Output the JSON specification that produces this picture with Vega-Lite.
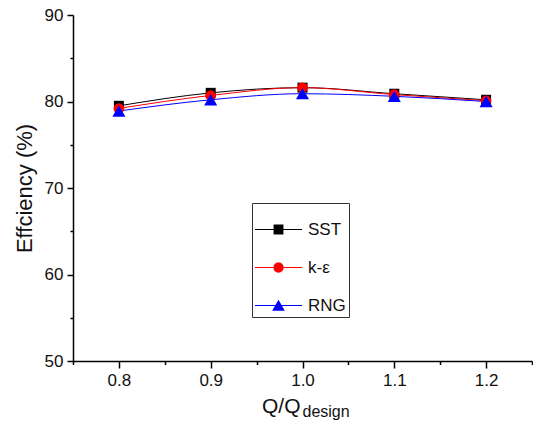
{
  "$schema": "https://vega.github.io/schema/vega-lite/v6.json",
  "width": 459,
  "height": 346,
  "autosize": {"type": "none"},
  "padding": {"left": 73, "top": 15, "right": 1, "bottom": 64},
  "background": "white",
  "config": {
    "view": {"stroke": null},
    "font": "Liberation Sans",
    "legend": {
      "strokeColor": "#333333",
      "fillColor": "white",
      "padding": 3,
      "labelFont": "Liberation Sans",
      "labelFontSize": 17,
      "labelColor": "#111111",
      "labelOffset": 6,
      "rowPadding": 6,
      "symbolSize": 2209,
      "symbolOpacity": 1,
      "symbolStrokeWidth": 0
    },
    "axis": {
      "grid": false,
      "domainColor": "#000000",
      "domainWidth": 1.5,
      "tickColor": "#000000",
      "tickWidth": 1.5,
      "labelFont": "Liberation Sans",
      "labelFontSize": 17,
      "labelColor": "#111111",
      "titleFont": "Liberation Sans",
      "titleFontSize": 22,
      "titleFontWeight": "normal",
      "titleColor": "#111111"
    }
  },
  "data": {
    "values": [
      {"q": 0.8, "eff": 79.5, "model": "SST"},
      {"q": 0.9, "eff": 81.0, "model": "SST"},
      {"q": 1.0, "eff": 81.6, "model": "SST"},
      {"q": 1.1, "eff": 80.9, "model": "SST"},
      {"q": 1.2, "eff": 80.2, "model": "SST"},
      {"q": 0.8, "eff": 79.2, "model": "k-ε"},
      {"q": 0.9, "eff": 80.7, "model": "k-ε"},
      {"q": 1.0, "eff": 81.6, "model": "k-ε"},
      {"q": 1.1, "eff": 80.8, "model": "k-ε"},
      {"q": 1.2, "eff": 80.1, "model": "k-ε"},
      {"q": 0.8, "eff": 78.9, "model": "RNG"},
      {"q": 0.9, "eff": 80.2, "model": "RNG"},
      {"q": 1.0, "eff": 80.9, "model": "RNG"},
      {"q": 1.1, "eff": 80.6, "model": "RNG"},
      {"q": 1.2, "eff": 80.0, "model": "RNG"}
    ]
  },
  "encoding": {
    "x": {
      "field": "q", "type": "quantitative",
      "scale": {"domain": [0.75, 1.25], "nice": false, "zero": false},
      "axis": {
        "title": null,
        "values": [0.75, 0.8, 0.85, 0.9, 0.95, 1.0, 1.05, 1.1, 1.15, 1.2, 1.25],
        "labelExpr": "(round(datum.value * 100) % 10 === 0 && datum.value > 0.76 && datum.value < 1.24) ? format(datum.value, '.1f') : ''",
        "tickSize": {"condition": {"test": "round(datum.value * 100) % 10 !== 0", "value": 3.5}, "value": 7},
        "labelPadding": 4,
        "labelFlush": false
      }
    },
    "y": {
      "field": "eff", "type": "quantitative",
      "scale": {"domain": [50, 90], "nice": false, "zero": false},
      "axis": {
        "title": "Effciency (%)",
        "values": [50, 55, 60, 65, 70, 75, 80, 85, 90],
        "labelExpr": "datum.value % 10 === 0 ? format(datum.value, 'd') : ''",
        "tickSize": {"condition": {"test": "datum.value % 10 !== 0", "value": 3}, "value": 6},
        "labelPadding": 4,
        "titlePadding": 8,
        "labelFlush": false
      }
    }
  },
  "layer": [
    {
      "transform": [{"filter": "false"}],
      "mark": {"type": "point", "filled": true, "opacity": 1},
      "encoding": {
        "color": {
          "field": "model", "type": "nominal",
          "scale": {"domain": ["SST", "k-ε", "RNG"], "range": ["#000000", "#ff0000", "#0000ff"]},
          "legend": {"title": null, "orient": "none", "legendX": 179, "legendY": 188}
        },
        "shape": {
          "field": "model", "type": "nominal",
          "scale": {
            "domain": ["SST", "k-ε", "RNG"],
            "range": [
              "M-1,-0.022H1V0.022H-1ZM-0.21,-0.21H0.21V0.21H-0.21Z",
              "M-1,-0.022H1V0.022H-1ZM0.22,0L0.2033,0.0842L0.1556,0.1556L0.0842,0.2033L0,0.22L-0.0842,0.2033L-0.1556,0.1556L-0.2033,0.0842L-0.22,0L-0.2033,-0.0842L-0.1556,-0.1556L-0.0842,-0.2033L0,-0.22L0.0842,-0.2033L0.1556,-0.1556L0.2033,-0.0842Z",
              "M-1,-0.022H1V0.022H-1ZM-0.27,0.22L0,-0.25L0.27,0.22Z"
            ]
          },
          "legend": {"title": null, "orient": "none", "legendX": 179, "legendY": 188}
        }
      }
    },
    {
      "mark": {"type": "line", "interpolate": "monotone", "strokeWidth": 1},
      "encoding": {
        "color": {"field": "model", "type": "nominal", "legend": null}
      }
    },
    {
      "transform": [{"filter": "datum.model === 'SST'"}],
      "mark": {"type": "point", "shape": "square", "filled": true, "opacity": 1, "size": 100},
      "encoding": {"color": {"field": "model", "type": "nominal", "legend": null}}
    },
    {
      "transform": [{"filter": "datum.model === 'k-ε'"}],
      "mark": {"type": "point", "shape": "circle", "filled": true, "opacity": 1, "size": 110},
      "encoding": {"color": {"field": "model", "type": "nominal", "legend": null}}
    },
    {
      "transform": [{"filter": "datum.model === 'RNG'"}],
      "mark": {"type": "point", "shape": "triangle-up", "filled": true, "opacity": 1, "size": 170},
      "encoding": {"color": {"field": "model", "type": "nominal", "legend": null}}
    },
    {
      "transform": [{"filter": "datum.model === 'SST' && datum.q === 1"}],
      "mark": {"type": "text", "text": "Q/Q", "align": "right", "baseline": "alphabetic", "dx": -2, "dy": 52, "font": "Liberation Sans", "fontSize": 21, "color": "#111111"},
      "encoding": {
        "x": {"datum": 1.0, "type": "quantitative"},
        "y": {"datum": 50, "type": "quantitative"}
      }
    },
    {
      "transform": [{"filter": "datum.model === 'SST' && datum.q === 1"}],
      "mark": {"type": "text", "text": "design", "align": "left", "baseline": "alphabetic", "dx": 0, "dy": 56, "font": "Liberation Sans", "fontSize": 16, "color": "#111111"},
      "encoding": {
        "x": {"datum": 1.0, "type": "quantitative"},
        "y": {"datum": 50, "type": "quantitative"}
      }
    }
  ]
}
